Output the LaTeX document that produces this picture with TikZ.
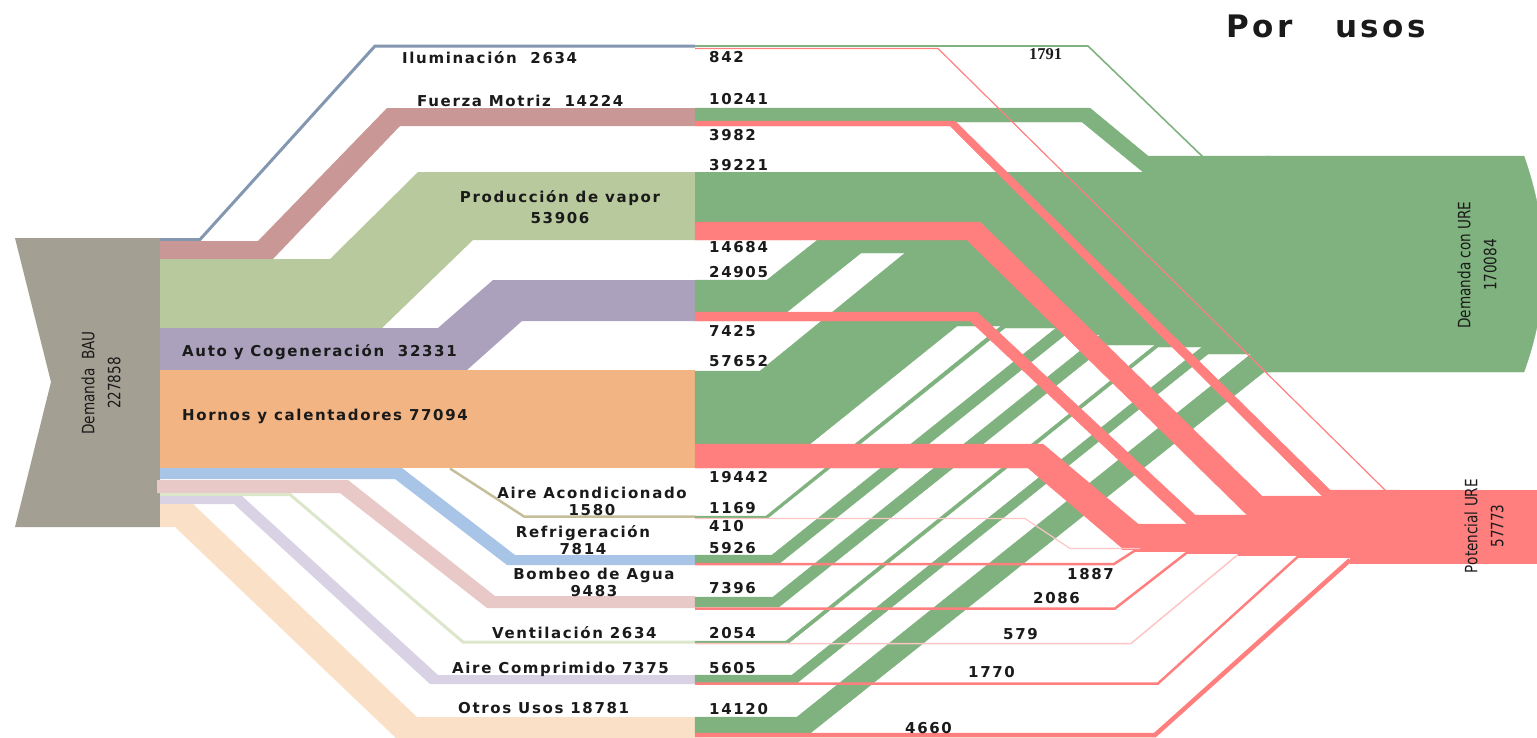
\documentclass[tikz,border=0pt]{standalone}
\usepackage{graphicx}
\usepackage{fontspec}
\setmainfont{DejaVu Sans}
\newfontfamily\labfont[LetterSpace=11]{DejaVu Sans}
\newfontfamily\sidefont{DejaVu Sans}
\newfontfamily\serfont{Liberation Serif}

\definecolor{bau}{HTML}{A3A093}
\definecolor{ilum}{HTML}{8497B0}
\definecolor{fuerza}{HTML}{C99896}
\definecolor{vapor}{HTML}{B8C99D}
\definecolor{cogen}{HTML}{ABA1BC}
\definecolor{hornos}{HTML}{F1B482}
\definecolor{aireac}{HTML}{C4BE9A}
\definecolor{refri}{HTML}{A8C4E6}
\definecolor{bombeo}{HTML}{E9C8C8}
\definecolor{venti}{HTML}{DCE6CB}
\definecolor{airecomp}{HTML}{D9D2E5}
\definecolor{otros}{HTML}{FBE0C8}
\definecolor{ure}{HTML}{7FB27E}
\definecolor{ahorro}{HTML}{FF7F7F}
\definecolor{ahorroclaro}{HTML}{FFC4C4}
\definecolor{texto}{HTML}{1A1A1A}

% narrow upright text for the rotated block labels
\newcommand{\estrecho}[1]{\scalebox{0.8}[1]{#1}}

\tikzset{
  lab/.style={font=\labfont\bfseries\fontsize{15}{17}\selectfont, text=texto, inner sep=0pt, anchor=base west},
  labc/.style={lab, anchor=base},
  side/.style={font=\sidefont\fontsize{17}{26}\selectfont, text=texto, rotate=90, align=center, inner sep=0pt},
  verde/.style={fill=ure, draw=ure, line width=0.3pt},
  rojo/.style={fill=ahorro, draw=ahorro, line width=0.3pt},
}

\begin{document}
\begin{tikzpicture}[x=1pt, y=-1pt, line join=miter]
\useasboundingbox (0,0) rectangle (1537,737);
\clip (0,0) rectangle (1537,737);

% ---- source block: Demanda BAU
\fill[bau] (15,238)--(160,238)--(160,527)--(15,527)--(51,382)--cycle;

% ---- uses, from the source to the split column
\draw[ilum, line width=3pt] (160,239.5)--(200,239.5)--(375,46)--(695,46);
\fill[fuerza] (160,241)--(258,241)--(387,108)--(695,108)--(695,126)--(400,126)--(273,259)--(160,259)--cycle;
\fill[vapor] (160,259)--(330,259)--(418,172)--(695,172)--(695,240)--(473,240)--(382,328)--(160,328)--cycle;
\fill[cogen] (160,328)--(438,328)--(493,280)--(695,280)--(695,321)--(522,321)--(467,370)--(160,370)--cycle;
\fill[hornos] (160,370) rectangle (695,468);
\draw[aireac, line width=2.5pt] (450,468.5)--(524,516.5)--(695,516.5);
\fill[refri] (160,468)--(402,468)--(515,555)--(695,555)--(695,565)--(507,565)--(395,479)--(160,479)--cycle;
\fill[bombeo] (157,480)--(348,480)--(495,596)--(695,596)--(695,608)--(487,608)--(340,493)--(157,493)--cycle;
\draw[venti, line width=3pt] (160,494.5)--(290,494.5)--(463,642)--(695,642);
\fill[airecomp] (160,496)--(242,496)--(438,675)--(695,675)--(695,684)--(430,684)--(234,504)--(160,504)--cycle;
\fill[otros] (160,504)--(193,504)--(417,717)--(695,717)--(695,740)--(398,740)--(175,527)--(160,527)--cycle;

% ---- demand with URE (green)
\fill[verde] (1265,156)--(1524,156) .. controls (1550,230) and (1550,300) .. (1524,372)--(1265,372)--cycle;
\draw[ure, line width=1.6pt] (695,46)--(1088,46)--(1203,157);
\fill[verde] (695,108)--(1090,108)--(1148,156)--(1270,156)--(1270,172)--(1143,172)--(1082,122)--(695,122)--cycle;
\fill[verde] (695,172) rectangle (1270,222);
\fill[verde] (695,280)--(767,280)--(840,222)--(1270,222)--(1270,253)--(861,253)--(787,312)--(695,312)--cycle;
\fill[verde] (695,371)--(760,371)--(905,253)--(1270,253)--(1270,326)--(957,326)--(810,444)--(695,444)--cycle;
\fill[verde] (695,516)--(766,516)--(1001,326)--(1270,326)--(1270,328)--(1005,328)--(768,518)--(695,518)--cycle;
\fill[verde] (695,555)--(772,555)--(1056,328)--(1270,328)--(1270,335)--(1065,335)--(780,563)--(695,563)--cycle;
\fill[verde] (695,597)--(773,597)--(1100,335)--(1270,335)--(1270,345)--(1107,345)--(779,607)--(695,607)--cycle;
\fill[verde] (695,641)--(786,641)--(1155,345)--(1270,345)--(1270,347)--(1158,347)--(789,643)--(695,643)--cycle;
\fill[verde] (695,675)--(792,675)--(1202,347)--(1270,347)--(1270,354)--(1208,354)--(797,683)--(695,683)--cycle;
\fill[verde] (695,717)--(797,717)--(1251,354)--(1270,354)--(1270,372)--(1264,372)--(808,735)--(695,735)--cycle;

% ---- URE potential (red)
\fill[rojo] (1360,490) rectangle (1545,563);
\fill[rojo] (695,121)--(955,121)--(1330,490)--(1400,490)--(1400,496)--(1322,496)--(950,126)--(695,126)--cycle;
\fill[rojo] (695,222)--(980,222)--(1262,496)--(1400,496)--(1400,515)--(1247,515)--(967,240)--(695,240)--cycle;
\fill[rojo] (695,312)--(977,312)--(1195,515)--(1400,515)--(1400,524)--(1187,524)--(970,321)--(695,321)--cycle;
\fill[rojo] (695,444)--(1043,444)--(1138,524)--(1400,524)--(1400,548)--(1122,548)--(1028,468)--(695,468)--cycle;
\fill[rojo] (1122,548)--(1400,548)--(1400,563)--(1350,563)--(1350,557.5)--(1298,557.5)--(1298,555)--(1238,555)--(1238,553.5)--(1187,553.5)--(1187,551)--(1135,551)--(1135,549)--(1122,549)--cycle;
\draw[ahorro, line width=1.2pt] (695,48.5)--(938,48.5)--(1386,491);
\draw[ahorroclaro, line width=1.2pt] (695,518.5)--(1025,518.5)--(1070,548.5)--(1140,548.5);
\draw[ahorro, line width=2.5pt] (695,564)--(1114,564)--(1135,550.5);
\draw[ahorro, line width=2.5pt] (695,608.5)--(1115,608.5)--(1187,552.5);
\draw[ahorroclaro, line width=1.5pt] (695,643.5)--(1131,643.5)--(1238,554.5);
\draw[ahorro, line width=2.5pt] (695,683.5)--(1158,683.5)--(1298,556.5);
\draw[ahorro, line width=4.5pt] (695,735)--(1155,735)--(1350,560);

% ---- title and block labels
\node[font=\labfont\bfseries\fontsize{31}{36}\selectfont, text=texto, inner sep=0pt, anchor=base] (titulo) at (1326,37) {Por\ \ \ usos};
\node[side] (bau) at (101,383) {\estrecho{Demanda\ \ BAU}\\\estrecho{227858}};
\node[side] (conure) at (1477,265) {\estrecho{Demanda con URE}\\\estrecho{170084}};
\node[side] (potencial) at (1484,526) {\estrecho{Potencial URE}\\\estrecho{57773}};

% ---- use labels
\node[lab] (l1) at (402,63) {Iluminación\ \ 2634};
\node[lab] (l2) at (417,106) {Fuerza Motriz\ \ 14224};
\node[labc] (l3a) at (560,202) {Producción de vapor};
\node[labc] (l3b) at (560,223) {53906};
\node[lab] (l4) at (182,356) {Auto y Cogeneración\ \ 32331};
\node[lab] (l5) at (182,420) {Hornos y calentadores 77094};
\node[labc] (l6a) at (592,498) {Aire Acondicionado};
\node[labc] (l6b) at (592,515) {1580};
\node[labc] (l7a) at (583,537) {Refrigeración};
\node[labc] (l7b) at (583,554) {7814};
\node[labc] (l8a) at (594,579) {Bombeo de Agua};
\node[labc] (l8b) at (594,596) {9483};
\node[lab] (l9) at (492,638) {Ventilación 2634};
\node[lab] (l10) at (452,673) {Aire Comprimido 7375};
\node[lab] (l11) at (458,713) {Otros Usos 18781};

% ---- split values
\node[lab] (n1) at (709,62) {842};
\node[lab] (n2) at (709,104) {10241};
\node[lab] (n3) at (709,140) {3982};
\node[lab] (n4) at (709,170) {39221};
\node[lab] (n5) at (709,252) {14684};
\node[lab] (n6) at (709,277) {24905};
\node[lab] (n7) at (709,336) {7425};
\node[lab] (n8) at (709,366) {57652};
\node[lab] (n9) at (709,482) {19442};
\node[lab] (n10) at (709,513) {1169};
\node[lab] (n11) at (709,531) {410};
\node[lab] (n12) at (709,553) {5926};
\node[lab] (n13) at (709,593) {7396};
\node[lab] (n14) at (709,638) {2054};
\node[lab] (n15) at (709,673) {5605};
\node[lab] (n16) at (709,714) {14120};
\node[font=\serfont\bfseries\fontsize{16.5}{18}\selectfont, text=texto, inner sep=0pt, anchor=base west] (n17) at (1029,59) {1791};
\node[lab] (n18) at (1067,579) {1887};
\node[lab] (n19) at (1033,603) {2086};
\node[lab] (n20) at (1003,639) {579};
\node[lab] (n21) at (968,677) {1770};
\node[lab] (n22) at (905,733) {4660};
\end{tikzpicture}
\end{document}
